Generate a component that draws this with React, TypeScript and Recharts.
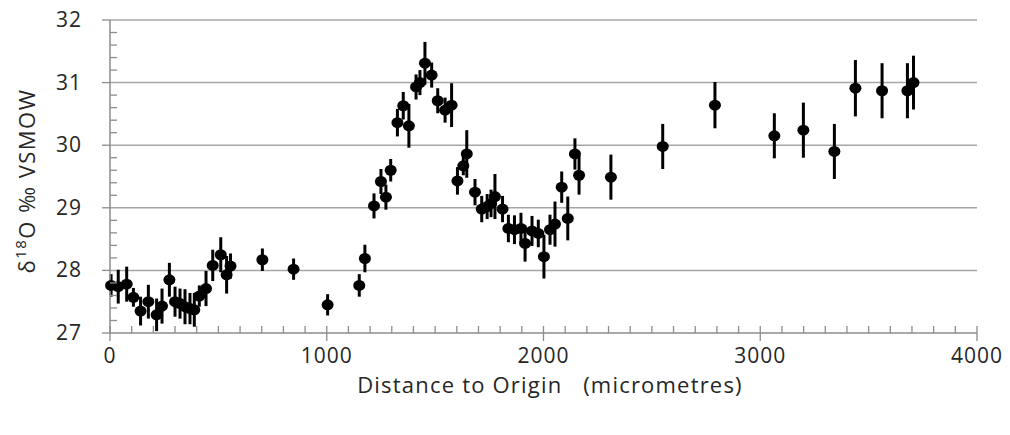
import React from "react";
import {
  ScatterChart,
  Scatter,
  XAxis,
  YAxis,
  ErrorBar,
  ReferenceLine,
  Label,
} from "recharts";

// distance to origin (micrometres)
const distances = [
  5, 38, 77, 108, 141, 177, 215, 240, 274, 300, 323, 346, 369, 389, 412, 443,
  474, 511, 538, 556, 703, 847, 1004, 1150, 1176, 1218, 1250, 1273, 1295, 1326,
  1353, 1379, 1412, 1430, 1453, 1484, 1512, 1546, 1576, 1603, 1630, 1646, 1684,
  1715, 1740, 1758, 1776, 1811, 1838, 1866, 1896, 1915, 1947, 1976, 2002, 2030,
  2053, 2084, 2112, 2145, 2164, 2311, 2550, 2791, 3065, 3199, 3342, 3439, 3562,
  3679, 3707,
];

// d18O permil VSMOW
const d18O = [
  27.76, 27.74, 27.78, 27.57, 27.35, 27.5, 27.29, 27.43, 27.85, 27.5, 27.47,
  27.42, 27.39, 27.37, 27.59, 27.71, 28.08, 28.25, 27.93, 28.07, 28.17, 28.02,
  27.45, 27.76, 28.19, 29.03, 29.42, 29.17, 29.6, 30.36, 30.63, 30.31, 30.93,
  31.0, 31.31, 31.12, 30.71, 30.56, 30.64, 29.43, 29.67, 29.86, 29.25, 28.98,
  29.02, 29.07, 29.18, 28.98, 28.67, 28.65, 28.67, 28.43, 28.63, 28.59, 28.22,
  28.65, 28.74, 29.33, 28.83, 29.86, 29.52, 29.49, 29.98, 30.64, 30.15, 30.24,
  29.9, 30.91, 30.87, 30.87, 31.0,
];

// analytical uncertainty (+/-)
const errors = [
  0.18, 0.27, 0.28, 0.15, 0.23, 0.27, 0.26, 0.28, 0.27, 0.24, 0.24, 0.28, 0.25,
  0.27, 0.17, 0.28, 0.25, 0.28, 0.3, 0.2, 0.18, 0.17, 0.17, 0.18, 0.22, 0.2,
  0.2, 0.2, 0.18, 0.22, 0.22, 0.35, 0.2, 0.2, 0.34, 0.2, 0.2, 0.2, 0.35, 0.22,
  0.15, 0.38, 0.21, 0.21, 0.2, 0.22, 0.36, 0.21, 0.22, 0.23, 0.25, 0.29, 0.24,
  0.22, 0.35, 0.24, 0.36, 0.25, 0.35, 0.25, 0.31, 0.36, 0.36, 0.37, 0.36, 0.44,
  0.44, 0.45, 0.44, 0.44, 0.43,
];

const xMajor = [0, 1000, 2000, 3000, 4000];
const yMajor = [27, 28, 29, 30, 31, 32];

const xTicks = Array.from({ length: 41 }, (_, i) => i * 100);
const yTicks = Array.from({ length: 26 }, (_, i) => Math.round((27 + i * 0.2) * 10) / 10);

const data = distances.map((d, i) => ({ x: d, y: d18O[i], err: errors[i] }));

const FONT = "'Open Sans', sans-serif";
const TEXT = "#262626";
const AXIS = "#8c8c8c";

const XTick = (props: any) => {
  const { x, y, payload } = props;
  const major = xMajor.includes(payload.value);
  return (
    <g>
      <line x1={x} x2={x} y1={y - 7} y2={major ? y + 8 : y} stroke={AXIS} strokeWidth={1.3} />
      {major && (
        <text x={x} y={y + 30} textAnchor="middle" fontFamily={FONT} fontSize={21} letterSpacing={1} fill={TEXT}>
          {payload.value}
        </text>
      )}
    </g>
  );
};

const YTick = (props: any) => {
  const { x, y, payload } = props;
  const major = yMajor.includes(payload.value);
  return (
    <g>
      <line x1={major ? x - 8 : x} x2={major ? x : x + 7} y1={y} y2={y} stroke={AXIS} strokeWidth={1.3} />
      {major && (
        <text x={x - 28} y={y + 7} textAnchor="end" fontFamily={FONT} fontSize={21} letterSpacing={1} fill={TEXT}>
          {payload.value}
        </text>
      )}
    </g>
  );
};

const Dot = (props: any) => <ellipse cx={props.cx} cy={props.cy} rx={6} ry={5.5} fill="#000" />;

export default function App() {
  return (
    <div style={{ position: "absolute", left: 0, top: 0, width: 1010, height: 435, background: "#fff" }}>
      <ScatterChart width={1010} height={435} margin={{ top: 20, right: 33, bottom: 0, left: 0 }}>
        {yMajor.slice(1).map((v) => (
          <ReferenceLine key={v} y={v} stroke="#a6a6a6" strokeWidth={1.5} ifOverflow="extendDomain" />
        ))}
        <XAxis
          type="number"
          dataKey="x"
          domain={[0, 4000]}
          ticks={xTicks}
          interval={0}
          height={102}
          tickSize={0}
          tickMargin={0}
          tickLine={false}
          tick={<XTick />}
          axisLine={{ stroke: AXIS, strokeWidth: 1.5 }}
        >
          <Label
            content={() => (
              <text
                x={550}
                y={393}
                textAnchor="middle"
                fontFamily={FONT}
                fontSize={22}
                letterSpacing={1.2}
                fill={TEXT}
                xmlSpace="preserve"
              >
                Distance to Origin   (micrometres)
              </text>
            )}
          />
        </XAxis>
        <YAxis
          type="number"
          dataKey="y"
          domain={[27, 32]}
          ticks={yTicks}
          interval={0}
          width={110}
          tickSize={0}
          tickMargin={0}
          tickLine={false}
          tick={<YTick />}
          axisLine={{ stroke: AXIS, strokeWidth: 1.5 }}
        >
          <Label
            content={() => (
              <text
                x={35}
                y={181}
                transform="rotate(-90 35 181)"
                textAnchor="middle"
                fontFamily={FONT}
                fontSize={22}
                letterSpacing={1.5}
                fill={TEXT}
              >
                δ<tspan fontSize={15} dy={-9}>18</tspan>
                <tspan dy={9}>O ‰ VSMOW</tspan>
              </text>
            )}
          />
        </YAxis>
        <Scatter data={data} shape={<Dot />} isAnimationActive={false}>
          <ErrorBar dataKey="err" direction="y" width={0} stroke="#000" strokeWidth={3} />
        </Scatter>
      </ScatterChart>
    </div>
  );
}
